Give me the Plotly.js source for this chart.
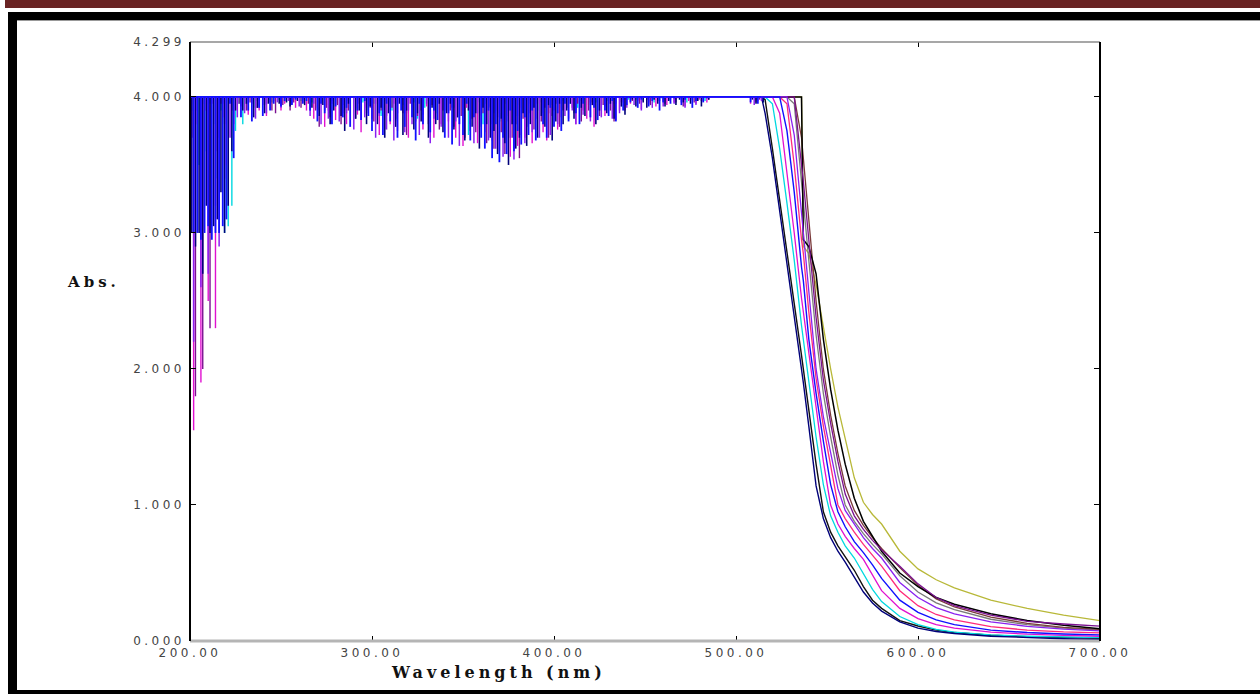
<!DOCTYPE html>
<html><head><meta charset="utf-8">
<script src="https://cdn.plot.ly/plotly-3.0.1.min.js"></script>
<style>
html,body{margin:0;padding:0;background:#fff;}
#wrap{position:relative;width:1260px;height:695px;overflow:hidden;background:#fff;}
#chart{position:absolute;left:0;top:0;width:1260px;height:695px;}
.deco{position:absolute;pointer-events:none;}
.xtick text,.ytick text{letter-spacing:3.5px;}
.annotation-text{letter-spacing:4px;}
</style></head><body>
<div id="wrap">
<div id="chart"></div>
<div class="deco" style="left:5px;top:0;width:1255px;height:8px;background:#6a2424;"></div>
<div class="deco" style="left:8px;top:12px;width:1252px;height:8px;background:#000;"></div>
<div class="deco" style="left:8px;top:20px;width:1252px;height:1px;background:#999;"></div>
<div class="deco" style="left:8px;top:12px;width:9px;height:681px;background:#000;"></div>
<div class="deco" style="left:8px;top:690px;width:1252px;height:4px;background:#000;"></div>
</div>
<script>
// ---------- axis ticks ----------
const wavelengthTicks = [200, 300, 400, 500, 600, 700];
const wavelengthTickText = ['200.00', '300.00', '400.00', '500.00', '600.00', '700.00'];
const absTicks = [0, 1, 2, 3, 4, 4.404];
const absTickText = ['0.000', '1.000', '2.000', '3.000', '4.000', '4.299'];

// ---------- saturated (noisy) region: 2 nm sampling, one chunk per wavelength zone ----------
const zoneStart = [200, 208, 222, 228, 246, 266, 300, 342, 366, 386, 406, 442, 486, 508];

const noiseBlue = [
  [2.9,3.0,3.0,2.95],
  [3.0,3.05,2.95,3.0,3.0,3.05,3.1],
  [3.95,3.55,4.0],
  [3.85,4.0,3.9,3.82,4.0,3.92,3.86,4.0,3.9],
  [3.95,4.0,3.93,3.97,4.0,3.94,3.98,4.0,3.95,3.97],
  [3.9,4.0,3.82,3.95,3.88,4.0,3.8,3.93,4.0,3.85,3.92,3.78,4.0,3.9,3.83,3.97,3.86],
  [3.75,4.0,3.88,3.72,3.95,3.82,4.0,3.7,3.9,3.78,4.0,3.85,3.68,3.95,3.8,4.0,3.74,3.9,3.83,4.0,3.7],
  [3.88,3.65,4.0,3.8,3.72,3.95,3.68,3.85,4.0,3.7,3.62,3.9],
  [3.55,3.8,3.52,3.7,3.58,3.9,3.6,3.75,3.65,3.85],
  [3.72,3.9,3.68,4.0,3.8,3.7,3.92,3.78,3.88,3.75],
  [3.95,3.82,4.0,3.88,3.8,3.95,4.0,3.85,3.92,3.83,4.0,3.9,3.86,3.97,3.82,4.0,3.9,3.94],
  [3.96,4.0,3.92,3.98,4.0,3.93,3.97,4.0,3.9,3.96,4.0,3.95,3.99,4.0,3.94,3.98,4.0,3.92,3.97,4.0,3.96,3.99],
  [4,4,4,4,4,4,4,4,4,4,4],
  [3.96,4.0,3.95,4.0]
];
const noisePurple = [
  [4.0,2.2,3.9,2.6],
  [3.95,2.7,4.0,3.2,2.9,3.95,3.4],
  [3.7,4.0,3.85],
  [4.0,3.88,3.95,4.0,3.84,3.93,4.0,3.88,3.96],
  [4.0,3.96,3.92,4.0,3.97,3.95,4.0,3.93,3.98,4.0],
  [3.86,3.95,4.0,3.8,3.9,3.84,3.97,4.0,3.82,3.94,3.88,4.0,3.76,3.92,4.0,3.85,3.94],
  [3.92,3.7,3.86,4.0,3.76,3.93,3.68,3.88,4.0,3.74,3.9,3.8,4.0,3.72,3.87,3.95,3.66,3.84,4.0,3.78,3.9],
  [3.7,3.92,3.82,3.64,3.9,4.0,3.75,3.66,3.88,3.78,3.95,3.68],
  [3.8,3.62,3.88,3.56,3.82,3.7,3.54,3.86,3.72,3.66],
  [3.85,3.74,3.95,3.7,3.88,4.0,3.72,3.9,3.8,3.95],
  [3.86,4.0,3.9,3.8,3.96,3.87,4.0,3.82,3.94,4.0,3.85,3.93,4.0,3.84,3.95,3.88,4.0,3.92],
  [4.0,3.94,3.98,3.9,4.0,3.96,3.92,4.0,3.97,3.93,4.0,3.98,3.95,4.0,3.96,3.92,4.0,3.98,3.94,4.0,3.97,4.0],
  [4,4,4,4,4,4,4,4,4,4,4],
  [4.0,3.94,4.0,3.97]
];
const noiseMagenta = [
  [3.6,1.55,3.8,1.9],
  [3.9,2.5,3.95,2.3,3.7,3.85,3.5],
  [4.0,3.8,3.9],
  [3.93,4.0,3.87,3.95,4.0,3.9,3.94,3.86,4.0],
  [3.97,4.0,3.9,3.95,4.0,3.98,3.92,4.0,3.96,3.9],
  [4.0,3.84,3.92,4.0,3.78,3.9,3.95,3.83,4.0,3.88,3.8,3.95,4.0,3.87,3.74,3.92,4.0],
  [3.84,3.95,3.72,4.0,3.86,3.8,3.95,3.75,4.0,3.88,3.7,3.92,3.82,4.0,3.76,3.93,3.85,3.7,3.95,3.8,4.0],
  [3.82,4.0,3.7,3.88,3.64,3.92,3.8,4.0,3.66,3.86,3.74,3.9],
  [3.68,3.9,3.6,3.75,3.86,3.56,3.8,3.64,3.92,3.7],
  [3.9,3.66,3.84,3.95,3.74,3.68,3.88,4.0,3.76,3.85],
  [4.0,3.84,3.92,3.8,4.0,3.9,3.84,3.96,3.78,4.0,3.92,3.86,3.95,4.0,3.83,3.9,3.96,4.0],
  [3.95,4.0,3.97,3.91,4.0,3.95,3.99,3.93,4.0,3.97,3.94,4.0,3.96,3.99,4.0,3.93,3.97,4.0,3.95,3.98,4.0,3.96],
  [4,4,4,4,4,4,4,4,4,4,4],
  [3.95,4.0,3.97,4.0]
];
const noiseNavy = [
  [3.0,2.9,3.0,2.7],
  [3.2,3.0,3.05,3.1,3.3,3.0,3.2],
  [3.6,3.9,4.0],
  [3.9,3.95,4.0,3.85,3.92,4.0,3.88,3.95,4.0],
  [4.0,3.95,4.0,3.96,3.93,4.0,3.97,4.0,3.94,4.0],
  [3.92,4.0,3.86,3.94,4.0,3.8,3.9,4.0,3.86,3.75,3.95,4.0,3.84,3.9,4.0,3.8,3.93],
  [4.0,3.8,3.92,3.7,3.88,4.0,3.78,3.95,3.72,3.9,4.0,3.76,3.88,3.82,4.0,3.7,3.92,3.8,3.95,3.74,3.88],
  [3.95,3.76,3.85,4.0,3.68,3.9,3.78,3.88,3.62,3.92,3.8,3.7],
  [3.75,3.58,3.84,3.66,3.5,3.8,3.62,3.7,3.88,3.64],
  [3.8,3.92,3.7,3.86,3.78,3.94,3.68,3.82,3.95,3.8],
  [3.9,3.95,3.84,4.0,3.92,3.86,4.0,3.94,3.8,3.9,4.0,3.88,3.95,3.84,4.0,3.93,3.87,4.0],
  [3.98,3.93,4.0,3.96,3.92,4.0,3.98,3.95,4.0,3.93,3.97,4.0,3.94,3.98,3.96,4.0,3.95,4.0,3.97,3.93,4.0,3.98],
  [4,4,4,4,4,4,4,4,4,4,4],
  [3.98,3.95,4.0,3.96]
];
const noiseCyan = [
  [3.9,4.0,3.5,3.95],
  [3.6,3.95,3.8,3.4,3.9,3.0,3.05],
  [3.2,3.75,3.95],
  [3.8,3.95,4.0,3.92,3.97,4.0,3.94,4.0,3.96],
  [4.0,3.98,4.0,3.96,4.0,3.99,4.0,3.97,4.0,4.0],
  [3.96,4.0,3.9,4.0,3.94,3.88,4.0,3.95,4.0,3.9,3.97,4.0,3.92,4.0,3.96,3.9,4.0],
  [3.95,4.0,3.86,3.97,4.0,3.9,3.82,4.0,3.94,3.88,4.0,3.96,3.84,4.0,3.92,3.97,4.0,3.88,3.95,4.0,3.9],
  [4.0,3.92,3.85,4.0,3.95,3.72,4.0,3.9,3.96,3.8,4.0,3.93],
  [3.88,4.0,3.82,3.95,3.9,4.0,3.86,3.94,4.0,3.9],
  [3.95,4.0,3.9,3.96,4.0,3.88,3.94,4.0,3.92,3.97],
  [4.0,3.95,4.0,3.92,3.97,4.0,3.94,4.0,3.96,3.9,4.0,3.97,4.0,3.95,4.0,3.93,4.0,3.98],
  [4.0,3.98,4.0,3.97,4.0,4.0,3.96,4.0,3.99,4.0,3.97,4.0,4.0,3.98,4.0,3.96,4.0,4.0,3.98,4.0,3.97,4.0],
  [4,4,4,4,4,4,4,4,4,4,4],
  [4.0,3.97,4.0,3.96]
];
const noiseDarkPurple = [
  [3.7,1.8,4.0,2.0],
  [3.9,2.3,4.0,3.6,3.95,3.8,4.0],
  [3.9,4.0,3.95],
  [4.0,3.9,3.96,4.0,3.92,4.0,3.95,4.0,3.9],
  [3.88,4.0,3.94,4.0,3.9,3.96,4.0,3.92,4.0,3.95],
  [4.0,3.9,3.78,4.0,3.92,3.85,4.0,3.94,3.8,4.0,3.9,4.0,3.84,3.95,4.0,3.88,3.92],
  [3.82,4.0,3.9,3.76,4.0,3.92,3.84,4.0,3.88,3.72,3.95,4.0,3.86,3.9,4.0,3.8,3.94,4.0,3.76,3.9,4.0],
  [3.9,3.78,4.0,3.86,3.7,3.95,3.84,3.74,4.0,3.88,3.66,3.92],
  [3.62,3.85,3.74,3.58,3.9,3.7,3.8,3.55,3.84,3.78],
  [3.88,3.76,4.0,3.82,3.92,3.7,3.86,3.95,3.78,3.9],
  [3.92,4.0,3.88,3.95,3.82,4.0,3.9,3.96,4.0,3.86,3.94,4.0,3.9,3.82,4.0,3.96,3.9,4.0],
  [3.97,4.0,3.95,4.0,3.98,3.94,4.0,3.97,4.0,3.95,3.98,4.0,3.96,4.0,3.93,4.0,3.98,3.96,4.0,3.97,4.0,3.98],
  [4,4,4,4,4,4,4,4,4,4,4],
  [4.0,3.96,3.98,4.0]
];

// ---------- absorption edge region ----------
const fallWl = [516,520,524,528,532,536,537,540,544,548,552,556,560,565,570,575,580,590,600,610,620,640,660,680,700];
const fallNavy       = [3.88,3.55,3.17,2.78,2.39,2.0,1.9,1.58,1.14,0.9,0.76,0.66,0.58,0.47,0.36,0.28,0.22,0.14,0.095,0.07,0.055,0.035,0.024,0.017,0.012];
const fallBlack2     = [3.98,3.62,3.25,2.86,2.48,2.1,2.0,1.7,1.3,0.95,0.8,0.7,0.62,0.52,0.4,0.3,0.24,0.15,0.11,0.08,0.062,0.042,0.032,0.025,0.02];
const fallCyan       = [4.0,3.95,3.62,3.22,2.8,2.32,2.22,1.9,1.5,1.15,0.92,0.8,0.7,0.61,0.5,0.38,0.29,0.18,0.12,0.085,0.065,0.045,0.035,0.029,0.025];
const fallMagenta    = [4.0,4.0,3.88,3.45,3.0,2.52,2.42,2.1,1.7,1.32,1.0,0.86,0.77,0.68,0.6,0.48,0.37,0.24,0.165,0.12,0.095,0.065,0.05,0.041,0.035];
const fallBlue       = [4.0,4.0,4.0,3.75,3.3,2.75,2.65,2.22,1.82,1.47,1.15,0.95,0.84,0.73,0.65,0.56,0.46,0.3,0.21,0.155,0.12,0.08,0.062,0.052,0.045];
const fallPink       = [4.0,4.0,4.0,3.95,3.5,2.95,2.85,2.42,1.93,1.58,1.28,1.0,0.9,0.8,0.71,0.63,0.55,0.37,0.26,0.195,0.155,0.105,0.08,0.067,0.06];
const fallPurple     = [4.0,4.0,4.0,4.0,3.72,3.15,3.02,2.6,2.0,1.65,1.38,1.12,0.96,0.86,0.76,0.68,0.61,0.43,0.32,0.245,0.2,0.14,0.108,0.088,0.075];
const fallGrey       = [4.0,4.0,4.0,4.0,3.95,3.35,3.22,2.8,2.25,1.82,1.5,1.22,1.0,0.88,0.79,0.71,0.64,0.48,0.36,0.28,0.23,0.16,0.12,0.095,0.08];
const fallDarkPurple = [4.0,4.0,4.0,4.0,4.0,3.5,3.38,2.95,2.38,1.92,1.6,1.32,1.08,0.92,0.82,0.74,0.67,0.55,0.42,0.32,0.26,0.19,0.145,0.125,0.11];
const fallMaroon     = [4.0,4.0,4.0,4.0,4.0,3.7,3.55,3.1,2.5,2.0,1.66,1.38,1.14,0.96,0.85,0.76,0.68,0.54,0.41,0.31,0.25,0.175,0.13,0.1,0.085];
const fallBlackR     = [4.0,4.0,4.0,4.0,4.0,4.0,2.95,2.9,2.7,2.22,1.85,1.55,1.3,1.05,0.88,0.77,0.66,0.5,0.4,0.32,0.27,0.2,0.15,0.115,0.09];
const fallOlive      = [4.0,4.0,4.0,4.0,4.0,4.0,2.9,2.85,2.62,2.3,2.0,1.72,1.48,1.2,1.02,0.93,0.86,0.66,0.53,0.45,0.39,0.3,0.24,0.19,0.15];

const saturation = 4.0;   // instrument ceiling: noisy readings hang down from it
const startWl = 200;
const noiseEndWl = 514;

// draw order: first drawn is at the bottom; offset = sampling offset (nm) of the noisy scan
const spectra = [
  {noise: null,            fall: fallOlive,      color: '#b8b838', w: 1.3, nw: 1.3, offset: 0},
  {noise: null,            fall: fallGrey,       color: '#7a7a7a', w: 1.3, nw: 1.3, offset: 0},
  {noise: null,            fall: fallPink,       color: '#ff2a7a', w: 1.3, nw: 1.3, offset: 0},
  {noise: null,            fall: fallMaroon,     color: '#7a3a3a', w: 1.3, nw: 1.3, offset: 0},
  {noise: null,            fall: fallBlack2,     color: '#111111', w: 1.4, nw: 1.4, offset: 0},
  {noise: null,            fall: fallBlackR,     color: '#000000', w: 1.5, nw: 1.5, offset: 0},
  {noise: noiseCyan,       fall: fallCyan,       color: '#00d8e0', w: 1.3, nw: 1.4, offset: 1},
  {noise: noiseDarkPurple, fall: fallDarkPurple, color: '#7a1090', w: 1.3, nw: 1.4, offset: 1},
  {noise: noiseNavy,       fall: fallNavy,       color: '#00007a', w: 1.4, nw: 1.6, offset: 1},
  {noise: noiseMagenta,    fall: fallMagenta,    color: '#e010d0', w: 1.3, nw: 1.4, offset: 0},
  {noise: noisePurple,     fall: fallPurple,     color: '#8a20f0', w: 1.3, nw: 1.5, offset: 0},
  {noise: noiseBlue,       fall: fallBlue,       color: '#1010ff', w: 1.4, nw: 1.8, offset: 0}
];

const traces = [];
spectra.forEach(s => {
  // saturated part: ceiling line plus one hanging spike per noisy reading
  const nx = [startWl, noiseEndWl, null], ny = [saturation, saturation, null];
  if (s.noise) {
    s.noise.forEach((chunk, z) => chunk.forEach((v, k) => {
      const w = zoneStart[z] + 2 * k + s.offset;
      if (v < saturation) { nx.push(w, w, null); ny.push(saturation, v, null); }
    }));
  }
  traces.push({x: nx, y: ny, type: 'scatter', mode: 'lines', hoverinfo: 'skip', connectgaps: false,
               line: {color: s.color, width: s.nw}});
  // absorption edge part
  traces.push({x: [noiseEndWl].concat(fallWl), y: [saturation].concat(s.fall), type: 'scatter', mode: 'lines',
               hoverinfo: 'skip', line: {color: s.color, width: s.w, shape: 'linear'}});
});

const tickFont = {family: 'DejaVu Sans, Arial, sans-serif', size: 12, color: '#444'};
const layout = {
  width: 1260, height: 695,
  margin: {l: 190, r: 160, t: 42, b: 54, pad: 0},
  paper_bgcolor: 'rgba(0,0,0,0)', plot_bgcolor: '#fff',
  showlegend: false,
  xaxis: {range: [200, 700], tickmode: 'array', tickvals: wavelengthTicks, ticktext: wavelengthTickText,
          ticks: 'inside', ticklen: 5, tickwidth: 1, tickcolor: '#000', mirror: 'ticks',
          showline: false, zeroline: false, showgrid: false, tickfont: tickFont, ticklabelstandoff: 3},
  yaxis: {range: [0, 4.404], tickmode: 'array', tickvals: absTicks, ticktext: absTickText,
          ticks: 'inside', ticklen: 6, tickwidth: 1, tickcolor: '#000', mirror: 'ticks',
          showline: false, zeroline: false, showgrid: false, tickfont: tickFont, ticklabelstandoff: 4},
  shapes: [
    {type: 'line', xref: 'paper', yref: 'paper', x0: 0, x1: 1, y0: 0, y1: 0, line: {color: '#b5b5b5', width: 3}, layer: 'above'},
    {type: 'line', xref: 'paper', yref: 'paper', x0: 0, x1: 1, y0: 1, y1: 1, line: {color: '#8a8a8a', width: 1.5}, layer: 'above'},
    {type: 'line', xref: 'paper', yref: 'paper', x0: 0, x1: 0, y0: 0, y1: 1, line: {color: '#000', width: 2}, layer: 'above'},
    {type: 'line', xref: 'paper', yref: 'paper', x0: 1, x1: 1, y0: 0, y1: 1, line: {color: '#000', width: 2}, layer: 'above'}
  ],
  annotations: [
    {text: 'Abs.', xref: 'paper', yref: 'paper', x: -0.1374, y: 0.599, xanchor: 'left', yanchor: 'middle',
     showarrow: false, font: {family: 'DejaVu Serif, serif', size: 15, weight: 'bold', color: '#111'}},
    {text: 'Wavelength (nm)', xref: 'paper', yref: 'paper', x: 0.2187, y: -0.0534, xanchor: 'left', yanchor: 'middle',
     showarrow: false, font: {family: 'DejaVu Serif, serif', size: 16, weight: 'bold', color: '#111'}}
  ]
};
Plotly.newPlot('chart', traces, layout, {staticPlot: true, displayModeBar: false});
</script>
</body></html>
